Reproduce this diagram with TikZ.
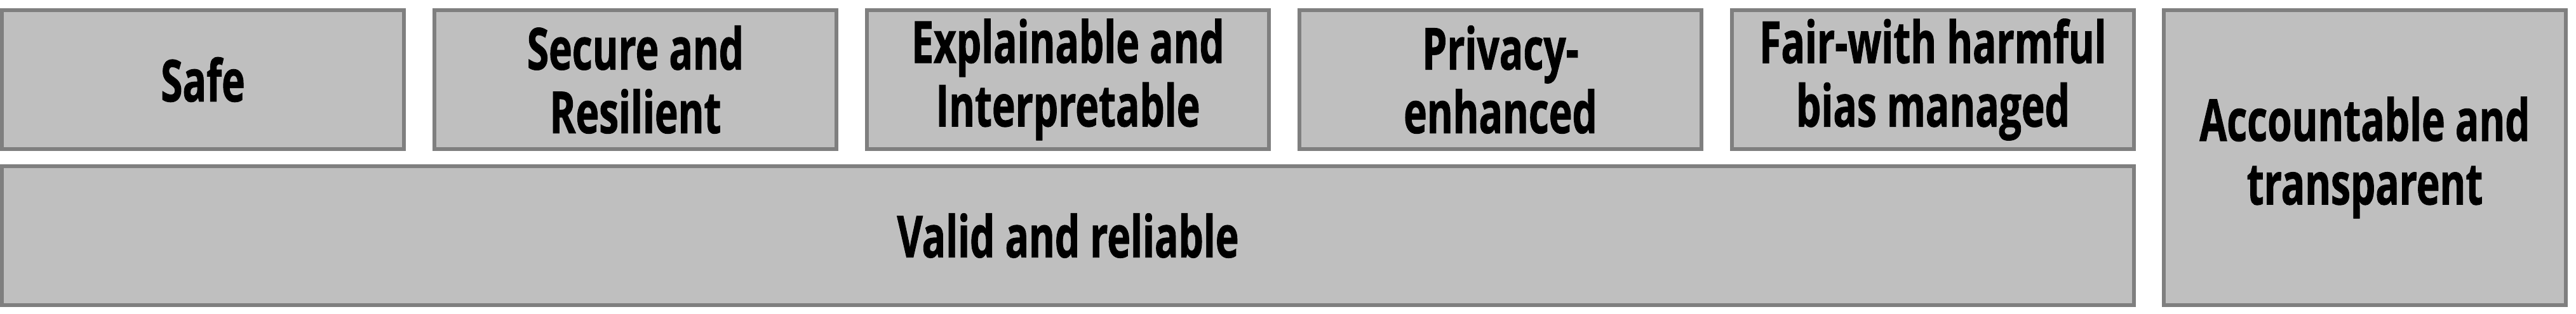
\documentclass[tikz,border=0pt]{standalone}
\usepackage{fontspec}
\setmainfont[FakeStretch=0.68,BoldFeatures={FakeBold=1}]{Open Sans}
\usetikzlibrary{positioning}
\definecolor{boxfill}{HTML}{BFBFBF}
\definecolor{boxdraw}{HTML}{7F7F7F}
\begin{document}
\begin{tikzpicture}[auto,node distance=0.42cm,
    box/.style={
      draw=boxdraw,
      fill=boxfill,
      line width=0.06cm,
      align=center,
      minimum width=6.33cm,
      minimum height=2.19cm,
      inner sep=0pt,
      font=\fontsize{26}{28.5}\selectfont\bfseries}]
    \useasboundingbox (0,0) rectangle (40.56,4.95);
    \node[box, anchor=north west] (a) at (0,4.82) {Safe};
    \node[box] (b) [right=of a] {Secure and\\Resilient};
    \node[box] (c) [right=of b] {Explainable and\\Interpretable};
    \node[box] (d) [right=of c] {Privacy-\\enhanced};
    \node[box] (e) [right=of d] {Fair-with harmful\\bias managed};

    \node[box,
      minimum width=33.57cm,
      anchor=north west] (f) at ([yshift=-0.21cm]a.south west) {Valid and reliable};

    \node[box,
      minimum height=4.65cm,
      anchor=north west] (g) at ([xshift=0.41cm]e.north east) {Accountable and\\transparent};
  \end{tikzpicture}
\end{document}
